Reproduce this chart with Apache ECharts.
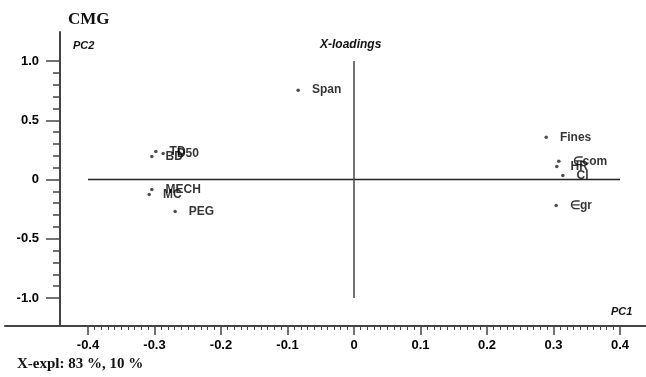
<!DOCTYPE html>
<html><head><meta charset="utf-8">
<script src="https://cdn.jsdelivr.net/npm/echarts@6/dist/echarts.min.js"></script>
<style>html,body{margin:0;padding:0;background:#fff}#c{width:646px;height:377px}</style>
</head><body><div id="c"></div>
<script>
var names = ['Span','Fines','\u2208com','HR','Cl','\u2208gr','TD','D50','BD','MECH','MC','PEG'];
var pc1 = [-0.084, 0.289, 0.308, 0.305, 0.314, 0.304, -0.298, -0.287, -0.304, -0.304, -0.308, -0.269];
var pc2 = [0.754, 0.356, 0.153, 0.110, 0.034, -0.220, 0.237, 0.220, 0.195, -0.085, -0.127, -0.271];
var crossH = [[-0.4, 0], [0.4, 0]];
var crossV = [[0, -1], [0, 1]];
var xTickFmt = function (v) { return Math.abs(v) < 1e-9 ? '0' : v.toFixed(1); };
var yTickFmt = function (v) { return Math.abs(v) < 1e-9 ? '0' : v.toFixed(1); };

var FONT = '"Liberation Sans",Arial,Helvetica,sans-serif';
var SERIF = '"Liberation Serif","Times New Roman",serif';
var pts = names.map(function (n, i) { return { name: n, value: [pc1[i], pc2[i]] }; });

var chart = echarts.init(document.getElementById('c'), null, { renderer: 'canvas' });
chart.setOption({
  animation: false,
  backgroundColor: '#fff',
  grid: [
    { left: 88, right: 26, top: 61, bottom: 79 },
    { left: 5, right: 0, top: 32, bottom: 51 }
  ],
  xAxis: [
    { gridIndex: 0, type: 'value', min: -0.4, max: 0.4, interval: 0.1, position: 'bottom', offset: 28,
      axisLine: { show: false, onZero: false },
      axisTick: { show: true, length: 9, lineStyle: { color: '#444', width: 1.5 } },
      minorTick: { show: true, splitNumber: 10, length: 4, lineStyle: { color: '#444', width: 1 } },
      axisLabel: { margin: 13, fontFamily: FONT, fontWeight: 'bold', fontSize: 13, color: '#000', formatter: xTickFmt },
      splitLine: { show: false } },
    { gridIndex: 1, type: 'value', min: 0, max: 1, position: 'bottom',
      axisLine: { show: true, onZero: false, lineStyle: { color: '#444', width: 2 } },
      axisTick: { show: false }, axisLabel: { show: false }, splitLine: { show: false } }
  ],
  yAxis: [
    { gridIndex: 0, type: 'value', min: -1, max: 1, interval: 0.5, position: 'left', offset: 28,
      axisLine: { show: false, onZero: false },
      axisTick: { show: true, length: 14, lineStyle: { color: '#444', width: 1.5 } },
      minorTick: { show: true, splitNumber: 5, length: 7, lineStyle: { color: '#444', width: 1.5 } },
      axisLabel: { margin: 21, fontFamily: FONT, fontWeight: 'bold', fontSize: 13, color: '#000', formatter: yTickFmt },
      splitLine: { show: false } },
    { gridIndex: 1, type: 'value', min: 0, max: 1, position: 'left', offset: -55,
      axisLine: { show: true, onZero: false, lineStyle: { color: '#444', width: 2 } },
      axisTick: { show: false }, axisLabel: { show: false }, splitLine: { show: false } }
  ],
  series: [
    { type: 'line', xAxisIndex: 0, yAxisIndex: 0, data: crossH, symbol: 'none',
      lineStyle: { color: '#222', width: 1.5 }, silent: true },
    { type: 'line', xAxisIndex: 0, yAxisIndex: 0, data: crossV, symbol: 'none',
      lineStyle: { color: '#444', width: 1.5 }, silent: true },
    { type: 'scatter', xAxisIndex: 0, yAxisIndex: 0, data: pts, symbol: 'circle', symbolSize: 3.5,
      itemStyle: { color: '#222' },
      label: { show: true, position: 'right', distance: 12, formatter: '{b}',
        fontFamily: FONT, fontWeight: 'bold', fontSize: 12, color: '#000' } }
  ],
  graphic: [
    { type: 'text', left: 68, top: 11, style: { text: 'CMG', font: 'bold 17px ' + SERIF, fill: '#111' } },
    { type: 'text', left: 73, top: 40, style: { text: 'PC2', font: 'italic bold 11px ' + FONT, fill: '#111' } },
    { type: 'text', left: 320, top: 39, style: { text: 'X-loadings', font: 'italic bold 12px ' + FONT, fill: '#111' } },
    { type: 'text', left: 611, top: 306, style: { text: 'PC1', font: 'italic bold 11px ' + FONT, fill: '#111' } },
    { type: 'text', left: 17, top: 357, style: { text: 'X-expl: 83 %, 10 %', font: 'bold 15px ' + SERIF, fill: '#111' } }
  ]
});
</script></body></html>
